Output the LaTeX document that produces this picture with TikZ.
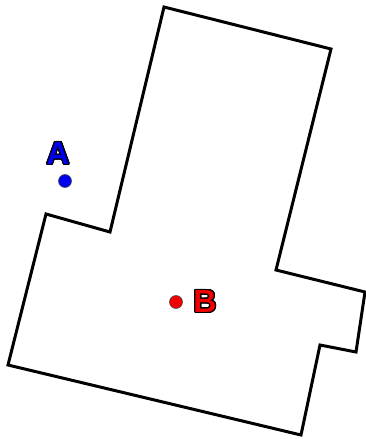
\documentclass[tikz,border=0pt]{standalone}
\usepackage{fontspec}
\setmainfont{Liberation Sans}
\usepackage{contour}
\contourlength{1.2pt}
\usetikzlibrary{positioning}
\definecolor{ptblue}{RGB}{0,0,240}
\definecolor{ptred}{RGB}{240,0,0}
\newcommand{\ptname}[2]{\contour{black}{\textcolor{#1}{#2}}}

\begin{document}
\begin{tikzpicture}[x=1pt, y=-1pt,
  ptdot/.style={circle, draw=black!70, line width=0.6pt, minimum size=13pt, inner sep=0pt},
  ptlabel/.style={font=\fontsize{32}{34}\selectfont\bfseries, inner sep=1pt}]
\useasboundingbox (0,0) rectangle (366,439);
% outline of the region
\draw[line width=3pt, line join=miter] (164,7) -- (331,49) -- (276,270) -- (365,292) -- (356,352) -- (320,345) -- (301,435) -- (8,365) -- (46,214) -- (110,232) -- cycle;
% point A, outside
\node[ptdot, fill=ptblue] (A) at (65,181) {};
\node[ptlabel] (labA) at (58,154) {\ptname{ptblue}{A}};
% point B, inside
\node[ptdot, fill=ptred] (B) at (176,302) {};
\node[ptlabel] (labB) at (205,302) {\ptname{ptred}{B}};
\end{tikzpicture}
\end{document}
